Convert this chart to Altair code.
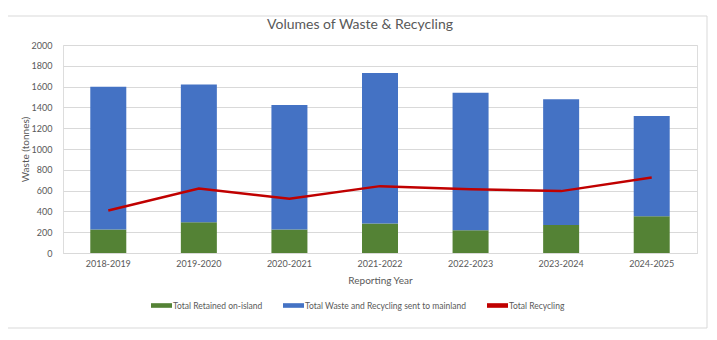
import altair as alt
import pandas as pd

years = ["2018-2019", "2019-2020", "2020-2021", "2021-2022", "2022-2023", "2023-2024", "2024-2025"]
retained = [225, 295, 225, 283, 219, 270, 354]
totals = [1598, 1620, 1424, 1730, 1540, 1479, 1318]
recycling = [409, 621, 521, 643, 614, 595, 727]
y_ticks = [0, 200, 400, 600, 800, 1000, 1200, 1400, 1600, 1800, 2000]

S_GREEN = "Total Retained on-island"
S_BLUE = "Total Waste and Recycling sent to mainland"
S_RED = "Total Recycling"

rows = []
for y, r, t in zip(years, retained, totals):
    rows.append({"year": y, "series": S_GREEN, "value": r, "ord": 0})
    rows.append({"year": y, "series": S_BLUE, "value": t - r, "ord": 1})
bars_df = pd.DataFrame(rows)
line_df = pd.DataFrame({"year": years, "series": S_RED, "value": recycling})

FONT = "Lato"
GREY = "#595959"

color = alt.Color(
    "series:N",
    scale=alt.Scale(domain=[S_GREEN, S_BLUE, S_RED], range=["#548235", "#4472C4", "#C00000"]),
    legend=alt.Legend(
        title=None,
        orient="none",
        legendX=88,
        legendY=250,
        direction="horizontal",
        columns=3,
        symbolType="M-1,-0.22H1V0.22H-1Z",
        symbolSize=441,
        symbolStrokeWidth=0,
        symbolOpacity=1,
        labelFont=FONT,
        labelFontSize=8.5,
        labelColor=GREY,
        labelOffset=1,
        columnPadding=20,
        labelLimit=400,
    ),
)

x = alt.X(
    "year:N",
    sort=years,
    title="Reporting Year",
    axis=alt.Axis(
        labelAngle=0,
        labelFont=FONT,
        labelFontSize=9,
        labelColor=GREY,
        labelPadding=6,
        ticks=False,
        domainColor="#d9d9d9",
        titleFont=FONT,
        titleFontSize=10,
        titleFontWeight="normal",
        titleColor=GREY,
        titlePadding=7,
        grid=False,
    ),
    scale=alt.Scale(paddingInner=0.6, paddingOuter=0.3),
)

y_axis = alt.Axis(
    values=y_ticks,
    tickCount=len(y_ticks) + 2,
    format="d",
    labelOverlap=False,
    labelFont=FONT,
    labelFontSize=9,
    labelColor=GREY,
    labelPadding=11,
    ticks=False,
    domain=False,
    gridColor="#d9d9d9",
    titleFont=FONT,
    titleFontSize=10,
    titleFontWeight="normal",
    titleColor=GREY,
    titlePadding=1,
)

y = alt.Y("value:Q", stack="zero", title="Waste (tonnes)",
          scale=alt.Scale(domain=[0, 2000], nice=False), axis=y_axis)

bars = alt.Chart(bars_df).mark_bar(size=36).encode(
    x=x,
    y=y,
    color=color,
    order=alt.Order("ord:Q"),
)

line = alt.Chart(line_df).mark_line(strokeWidth=2.5, interpolate="linear").encode(
    x=x,
    y=y,
    color=color,
)

frame = alt.Chart(pd.DataFrame({"a": [0]})).mark_rect(
    fill=None, stroke="#d9d9d9", strokeWidth=1
).encode(
    x=alt.value(-57), x2=alt.value(644), y=alt.value(-29), y2=alt.value(283)
)

chart = alt.layer(bars, line, frame).properties(
    width=634,
    height=208,
    title=alt.TitleParams(
        "Volumes of Waste & Recycling",
        font=FONT,
        fontSize=14,
        fontWeight="normal",
        color=GREY,
        anchor="middle",
        frame="group",
        dx=-20,
        dy=16,
        offset=0,
    ),
    autosize=alt.AutoSizeParams(type="none"),
    padding={"left": 55, "top": 37, "right": 12, "bottom": 79},
).configure_view(stroke=None).configure(background="white")

chart.save("out.html", embed_options={"renderer": "svg", "actions": False})
